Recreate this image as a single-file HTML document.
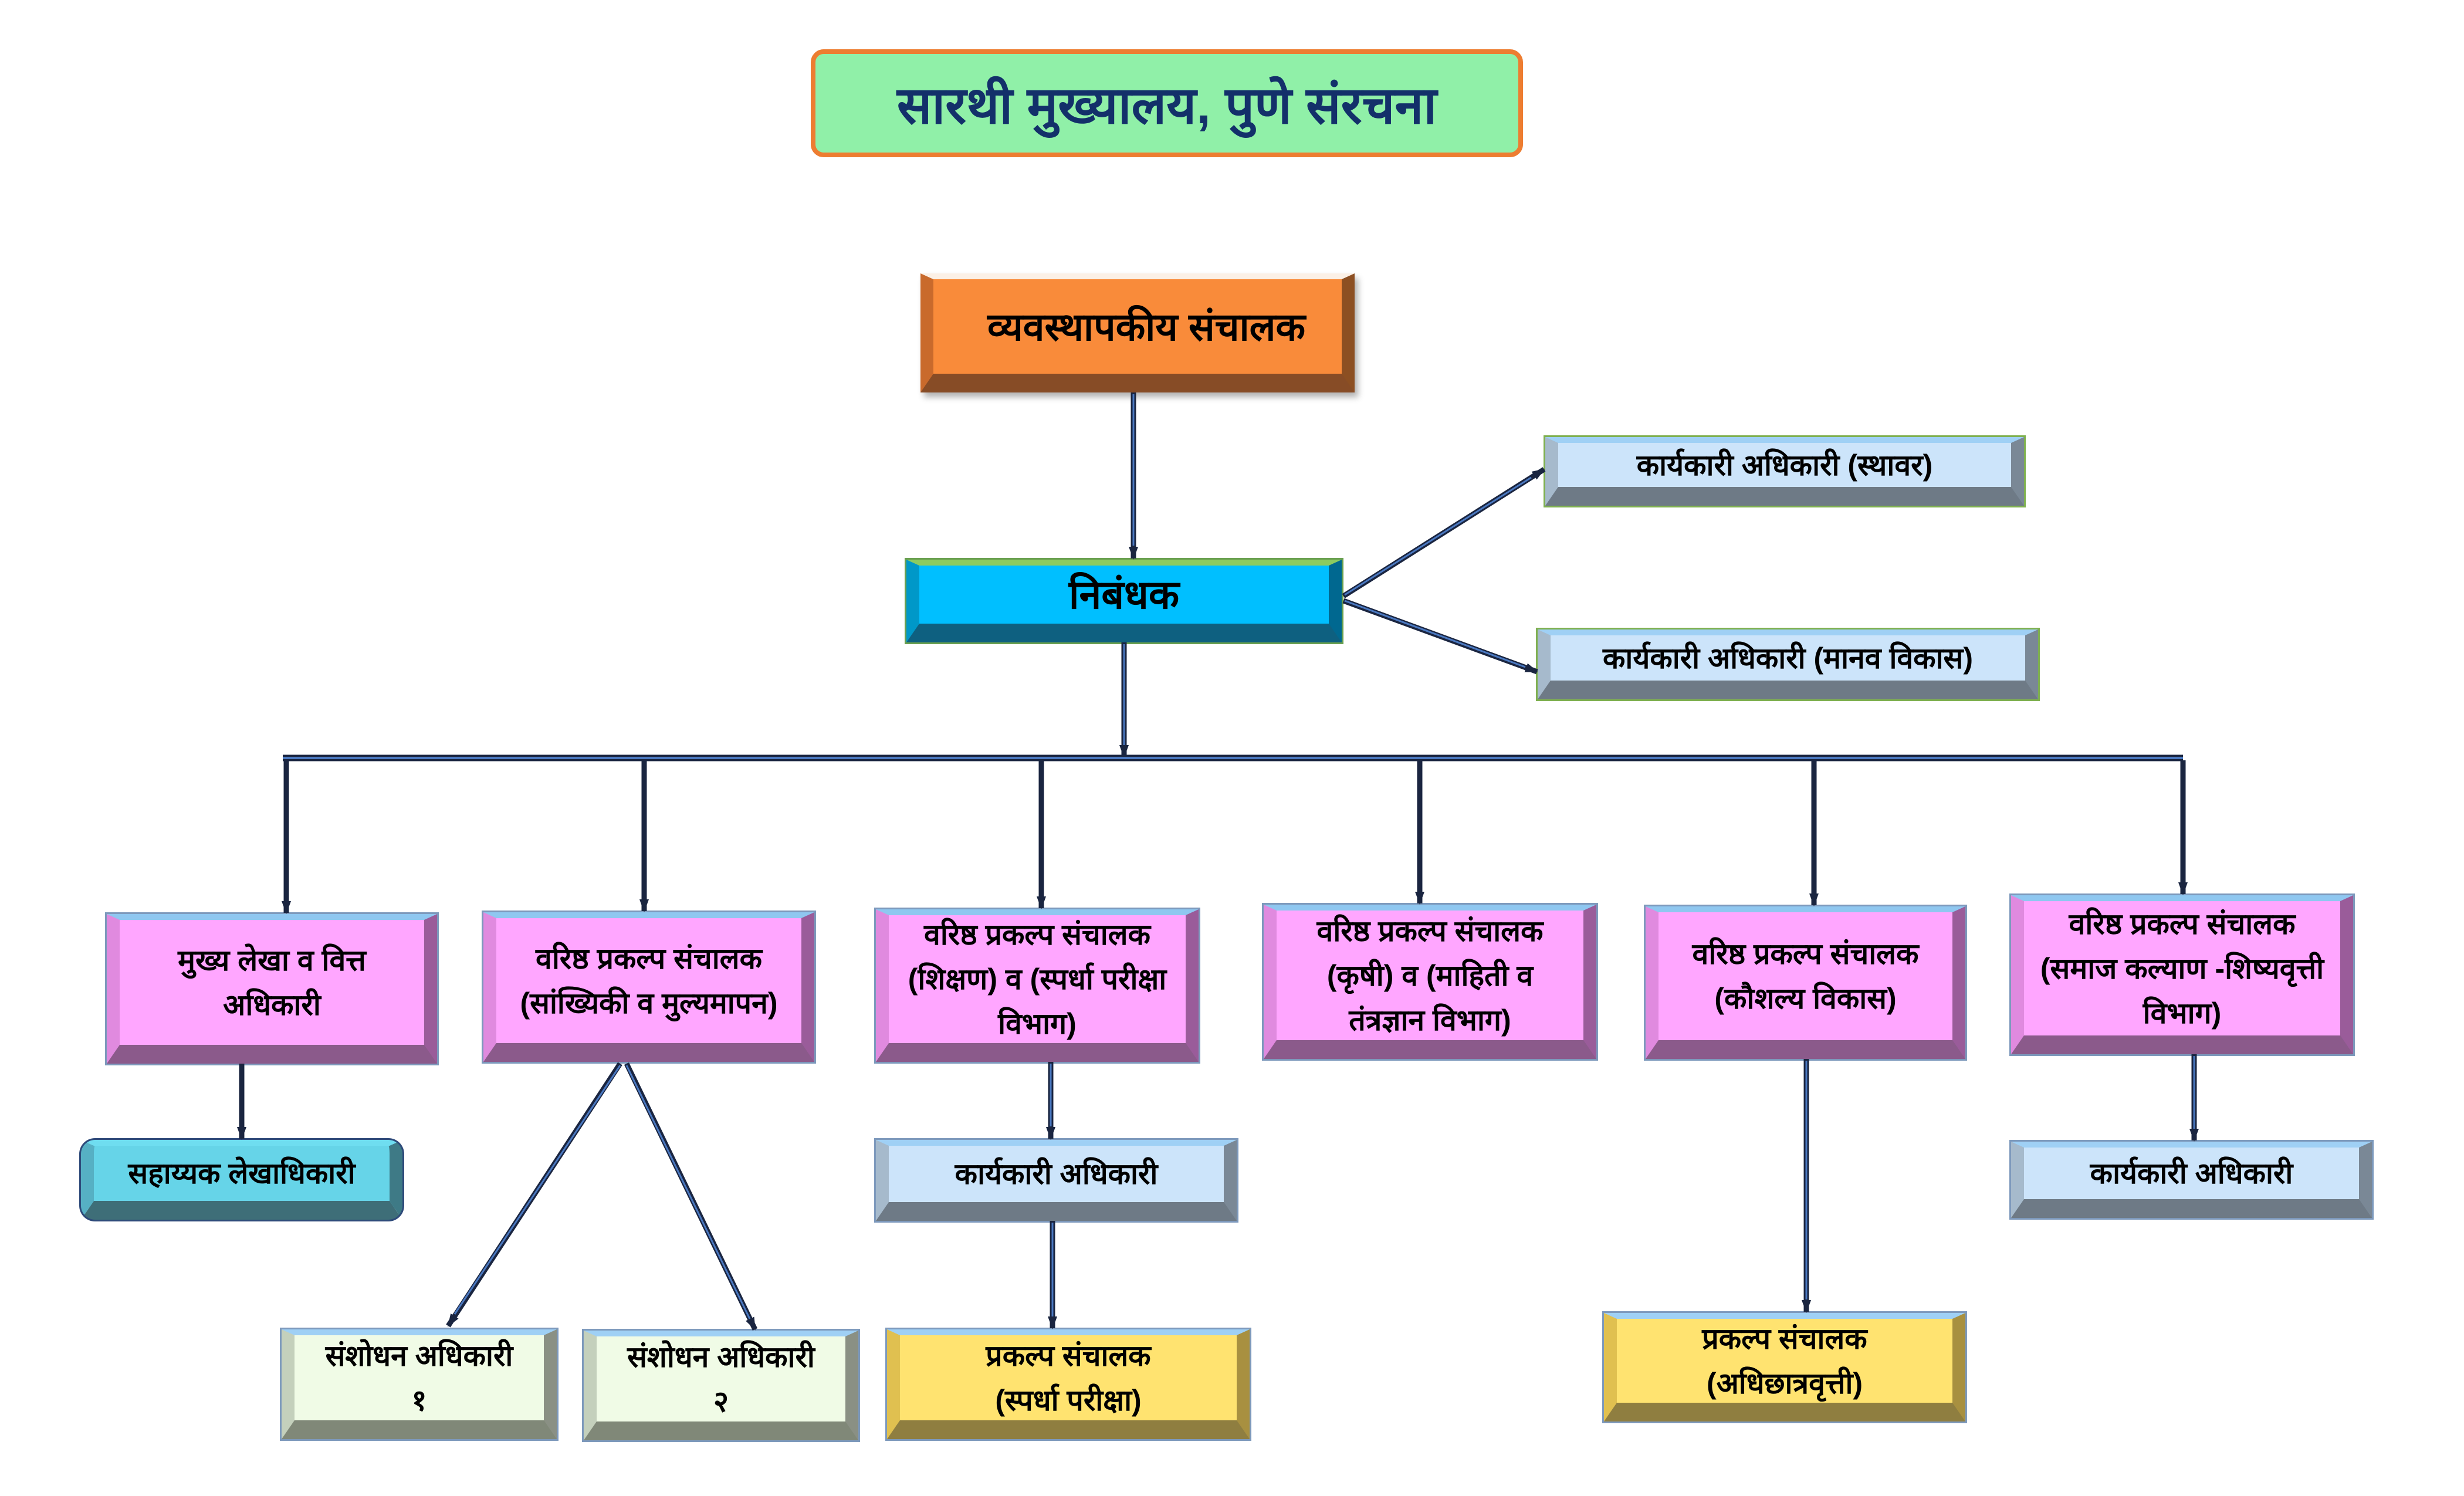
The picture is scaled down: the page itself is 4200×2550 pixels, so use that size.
<!DOCTYPE html>
<html><head><meta charset="utf-8">
<style>
html,body{margin:0;padding:0;background:#fff;}
body{width:4200px;height:2550px;position:relative;overflow:hidden;font-family:"Liberation Sans","Noto Sans CJK SC",sans-serif;}
.b{position:absolute;box-sizing:border-box;border-style:solid;border-width:10px 22px 32px 22px;display:flex;align-items:center;justify-content:center;text-align:center;font-weight:bold;color:#000;font-size:50px;line-height:76px;box-shadow:0 0 0 3px rgba(70,110,160,0.7);}
.pink{background:#FFA6FF;border-color:#8FC7F0 #9A5C9A #8B5A8B #E08ADF;}
.lb{background:#CCE4FA;border-color:#9FD0F5 #7A8896 #6E7A86 #A6BACC;}
.gr{background:#F0FBE6;border-color:#9FD0F5 #8A9084 #808878 #C4D0BC;}
.yl{background:#FFE370;border-color:#9FD0F5 #A89040 #8F7E40 #E0C050;}
svg{position:absolute;left:0;top:0;}
</style></head><body>

<div style="position:absolute;left:1382px;top:84px;width:1214px;height:184px;box-sizing:border-box;background:#90F0A8;border:8px solid #ED7D31;border-radius:22px;display:flex;align-items:center;justify-content:center;font-weight:bold;font-size:88px;color:#13306A;">सारथी मुख्यालय, पुणे संरचना</div>

<div class="b" style="left:1569px;top:466px;width:740px;height:203px;background:#F98B3A;border-color:#FBF0E6 #8C4F22 #874C26 #C96A2C;font-size:66px;box-shadow:6px 8px 10px rgba(0,0,0,0.3);padding-left:30px;">व्यवस्थापकीय संचालक</div>

<div class="b" style="left:1545px;top:954px;width:742px;height:141px;background:#00BFFF;border-color:#8CCB60 #006890 #0E6080 #0098C8;font-size:68px;box-shadow:0 0 0 3px #6aa050;">निबंधक</div>

<div class="b lb" style="left:2634px;top:745px;width:816px;height:117px;box-shadow:0 0 0 3px #7fb050;">कार्यकारी अधिकारी (स्थावर)</div>
<div class="b lb" style="left:2621px;top:1073px;width:853px;height:119px;box-shadow:0 0 0 3px #7fb050;">कार्यकारी अधिकारी (मानव विकास)</div>

<div class="b pink" style="left:182px;top:1558px;width:563px;height:255px;">मुख्य लेखा व वित्त<br>अधिकारी</div>
<div class="b pink" style="left:824px;top:1555px;width:564px;height:255px;">वरिष्ठ प्रकल्प संचालक<br>(सांख्यिकी व मुल्यमापन)</div>
<div class="b pink" style="left:1493px;top:1550px;width:550px;height:260px;">वरिष्ठ प्रकल्प संचालक<br>(शिक्षण) व (स्पर्धा परीक्षा<br>विभाग)</div>
<div class="b pink" style="left:2154px;top:1542px;width:567px;height:263px;">वरिष्ठ प्रकल्प संचालक<br>(कृषी) व (माहिती व<br>तंत्रज्ञान विभाग)</div>
<div class="b pink" style="left:2805px;top:1545px;width:545px;height:260px;">वरिष्ठ प्रकल्प संचालक<br>(कौशल्य विकास)</div>
<div class="b pink" style="left:3428px;top:1526px;width:583px;height:271px;">वरिष्ठ प्रकल्प संचालक<br>(समाज कल्याण -शिष्यवृत्ती<br>विभाग)</div>

<div class="b" style="left:138px;top:1943px;width:548px;height:136px;background:#66D4E8;border-color:#6FDDF0 #3E7A86 #3E6E78 #56B0C4;border-radius:24px;box-shadow:0 0 0 3px #2E4A7A;">सहाय्यक लेखाधिकारी</div>
<div class="b lb" style="left:1493px;top:1943px;width:615px;height:138px;">कार्यकारी अधिकारी</div>
<div class="b lb" style="left:3428px;top:1946px;width:615px;height:130px;">कार्यकारी अधिकारी</div>

<div class="b gr" style="left:480px;top:2266px;width:469px;height:187px;">संशोधन अधिकारी<br>१</div>
<div class="b gr" style="left:995px;top:2268px;width:468px;height:187px;">संशोधन अधिकारी<br>२</div>
<div class="b yl" style="left:1512px;top:2266px;width:618px;height:187px;">प्रकल्प संचालक<br>(स्पर्धा परीक्षा)</div>
<div class="b yl" style="left:2734px;top:2238px;width:616px;height:185px;">प्रकल्प संचालक<br>(अधिछात्रवृत्ती)</div>

<svg width="4200" height="2550" viewBox="0 0 4200 2550">
<defs>
<marker id="a" markerWidth="22" markerHeight="22" refX="20" refY="11" orient="auto" markerUnits="userSpaceOnUse">
<path d="M0,3 L22,11 L0,19 Z" fill="#1a2540"/></marker>
</defs>
<g stroke="#1a2540" stroke-width="9" fill="none" marker-end="url(#a)">
<line x1="1932" y1="669" x2="1932" y2="952"/>
<line x1="1916" y1="1095" x2="1916" y2="1290"/>
<line x1="2290" y1="1016" x2="2632" y2="800"/>
<line x1="2290" y1="1024" x2="2620" y2="1145"/>
<line x1="488" y1="1296" x2="488" y2="1556"/>
<line x1="1098" y1="1296" x2="1098" y2="1553"/>
<line x1="1775" y1="1296" x2="1775" y2="1548"/>
<line x1="2420" y1="1296" x2="2420" y2="1540"/>
<line x1="3092" y1="1296" x2="3092" y2="1543"/>
<line x1="3721" y1="1296" x2="3721" y2="1524"/>
<line x1="412" y1="1813" x2="412" y2="1941"/>
<line x1="1057" y1="1813" x2="764" y2="2260"/>
<line x1="1068" y1="1813" x2="1287" y2="2266"/>
<line x1="1791" y1="1810" x2="1791" y2="1941"/>
<line x1="1794" y1="2081" x2="1794" y2="2264"/>
<line x1="3079" y1="1805" x2="3079" y2="2236"/>
<line x1="3740" y1="1797" x2="3740" y2="1944"/>
</g>
<g stroke="#4A78C0" stroke-width="3" fill="none">
<line x1="1932" y1="672" x2="1932" y2="930"/>
<line x1="1916" y1="1098" x2="1916" y2="1270"/>
<line x1="2292" y1="1014" x2="2610" y2="814"/>
<line x1="2292" y1="1024" x2="2600" y2="1137"/>
<line x1="1057" y1="1816" x2="775" y2="2240"/>
<line x1="1068" y1="1816" x2="1278" y2="2248"/>
<line x1="1791" y1="1813" x2="1791" y2="1920"/>
<line x1="1794" y1="2084" x2="1794" y2="2244"/>
<line x1="3079" y1="1808" x2="3079" y2="2215"/>
<line x1="3740" y1="1800" x2="3740" y2="1924"/>
</g>
<line x1="482" y1="1292" x2="3721" y2="1292" stroke="#1a2540" stroke-width="11"/>
<line x1="482" y1="1292" x2="3721" y2="1292" stroke="#4A78C0" stroke-width="4"/>
</svg>
</body></html>
